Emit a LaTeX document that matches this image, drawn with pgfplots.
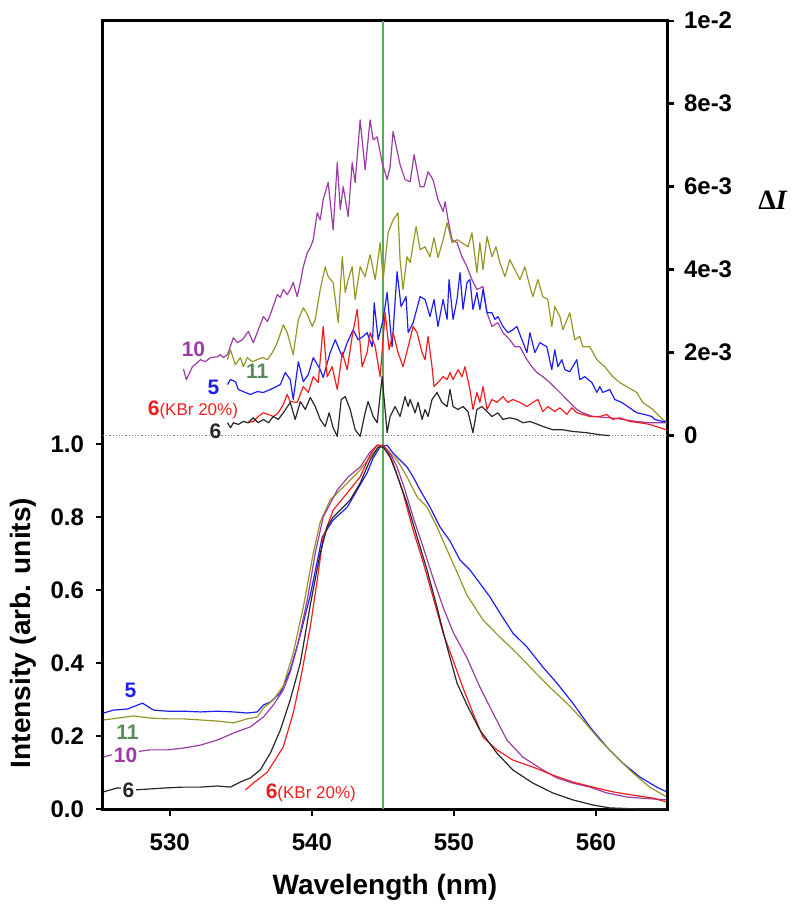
\documentclass[border=0pt]{standalone}
\usepackage{pgfplots}
\pgfplotsset{compat=1.18}
\usepackage{fontspec}
\setmainfont{Liberation Sans}
\setsansfont{Liberation Sans}
\newfontfamily\serifI{Liberation Serif}
\definecolor{cpur}{RGB}{155,60,165}
\definecolor{coli}{RGB}{150,150,40}
\definecolor{cblu}{RGB}{30,30,240}
\definecolor{cred}{RGB}{240,30,30}
\definecolor{cblk}{RGB}{40,40,40}
\definecolor{cgrn}{RGB}{90,170,90}
\definecolor{clab}{RGB}{90,140,90}
\tikzset{lab/.style={font=\fontsize{10.5}{12}\selectfont\bfseries}}
\begin{document}
\begin{tikzpicture}
\pgfplotsset{
  base/.style={scale only axis, width=282pt, height=394.15pt, at={(0pt,0pt)}, anchor=south west,
    xmin=525.3, xmax=565, tick align=outside, major tick length=3.5pt,
    axis line style={line width=1.5pt, black},
    major tick style={line width=1.2pt, black},
    every tick label/.append style={font=\fontsize{12}{14}\selectfont\bfseries},
    /pgf/number format/assume math mode=true},
  cur/.style={line width=0.6pt, line join=round}
}
% ---------------- bottom: normalised intensity ----------------
\begin{axis}[base, ymin=0, ymax=2.16, ytick={0,0.2,0.4,0.6,0.8,1.0}, xtick={530,540,550,560},
  tick pos=left,
  yticklabel style={/pgf/number format/fixed, /pgf/number format/fixed zerofill, /pgf/number format/precision=1, xshift=-2.5pt},
  xticklabel style={yshift=-5.5pt}]
\addplot[cgrn, line width=0.8pt] coordinates {(545,0) (545,2.16)};
% 5 (blue)
\addplot[cblu, cur] coordinates {(525.34,0.263)(526.04,0.271)(527.03,0.274)(528.08,0.290)(528.86,0.271)(529.84,0.268)(530.96,0.268)(532.16,0.266)(533.35,0.268)(534.48,0.266)(535.46,0.263)(536.16,0.266)(536.59,0.285)(537.08,0.293)(537.78,0.318)(538.48,0.381)(539.19,0.477)(539.89,0.586)(540.73,0.745)(541.50,0.792)(542.49,0.827)(543.19,0.874)(543.89,0.921)(544.32,0.962)(544.81,0.992)(545.30,0.997)(545.72,0.975)(546.21,0.956)(546.70,0.937)(547.13,0.910)(547.62,0.874)(548.32,0.827)(549.02,0.773)(549.73,0.734)(550.43,0.682)(551.13,0.655)(552.54,0.581)(553.24,0.537)(554.15,0.482)(555.14,0.444)(556.26,0.389)(557.25,0.345)(558.37,0.290)(559.57,0.225)(560.76,0.170)(561.88,0.126)(563.08,0.088)(564.27,0.060)(564.98,0.047)};
% 11 (olive)
\addplot[coli, cur] coordinates {(525.34,0.244)(526.33,0.249)(527.45,0.255)(528.64,0.249)(529.84,0.247)(530.96,0.247)(532.16,0.244)(533.35,0.241)(534.48,0.236)(535.46,0.247)(536.16,0.252)(536.59,0.277)(537.29,0.299)(537.99,0.337)(538.69,0.427)(539.40,0.553)(540.10,0.701)(540.59,0.786)(541.29,0.847)(542.21,0.882)(543.40,0.929)(544.32,0.975)(544.81,0.995)(545.30,0.984)(546.00,0.956)(546.70,0.910)(547.41,0.855)(548.11,0.827)(548.81,0.773)(549.52,0.710)(550.22,0.649)(550.92,0.586)(552.05,0.518)(553.24,0.471)(554.43,0.427)(555.56,0.381)(556.75,0.334)(557.95,0.290)(559.07,0.244)(560.27,0.189)(561.46,0.142)(562.59,0.099)(563.78,0.060)(564.98,0.033)};
% 10 (purple)
\addplot[cpur, cur] coordinates {(525.34,0.142)(525.83,0.148)(527.45,0.156)(528.64,0.162)(529.84,0.162)(530.96,0.167)(532.16,0.175)(533.35,0.189)(534.48,0.208)(535.67,0.225)(536.59,0.252)(537.29,0.285)(537.99,0.326)(538.48,0.375)(538.97,0.444)(539.68,0.573)(540.24,0.701)(540.80,0.800)(541.79,0.874)(542.56,0.910)(543.40,0.937)(544.10,0.978)(544.60,0.997)(545.02,0.995)(545.51,0.975)(546.00,0.937)(546.56,0.874)(547.13,0.800)(547.83,0.718)(548.53,0.633)(549.24,0.553)(549.94,0.485)(550.92,0.414)(551.83,0.334)(552.75,0.263)(553.73,0.189)(554.86,0.142)(556.26,0.107)(557.25,0.085)(558.37,0.071)(559.57,0.060)(560.76,0.044)(562.17,0.033)(563.08,0.030)(564.98,0.025)};
% 6 (KBr 20%) (red)
\addplot[cred, cur] coordinates {(535.32,0.052)(535.88,0.071)(536.87,0.101)(537.99,0.170)(538.69,0.263)(539.19,0.353)(539.89,0.499)(540.38,0.627)(540.80,0.745)(541.50,0.819)(542.49,0.866)(543.40,0.910)(544.10,0.970)(544.60,0.997)(545.02,0.997)(545.30,0.984)(545.72,0.948)(546.42,0.866)(547.13,0.764)(547.83,0.677)(548.53,0.581)(549.24,0.482)(549.94,0.408)(550.64,0.332)(551.34,0.263)(552.05,0.197)(553.03,0.162)(554.15,0.134)(555.56,0.115)(556.96,0.093)(558.37,0.074)(559.78,0.060)(561.18,0.047)(562.59,0.038)(564.00,0.030)(564.98,0.019)};
% 6 (black)
\addplot[cblk, cur] coordinates {(525.34,0.047)(526.33,0.058)(527.45,0.052)(528.64,0.055)(529.84,0.058)(530.96,0.060)(532.16,0.060)(533.35,0.063)(534.27,0.060)(534.97,0.074)(535.67,0.085)(536.37,0.107)(537.08,0.153)(537.78,0.216)(538.48,0.299)(539.19,0.400)(539.89,0.559)(540.59,0.701)(541.08,0.773)(541.50,0.800)(542.00,0.819)(542.70,0.847)(543.40,0.893)(544.10,0.956)(544.67,0.992)(545.02,0.992)(545.51,0.964)(546.00,0.915)(546.70,0.838)(547.41,0.745)(548.11,0.655)(548.81,0.553)(549.52,0.444)(550.22,0.345)(550.92,0.285)(551.83,0.216)(553.03,0.153)(554.15,0.107)(555.56,0.071)(556.96,0.044)(558.37,0.025)(559.78,0.011)(560.97,0.003)(563.08,0.0)(564.98,0.0)};
\node[cblu, lab] at (axis cs:527.24,0.326) {5};
\node[clab, lab] at (axis cs:527.03,0.211) {11};
\node[cpur, fill=white, inner sep=1pt, lab] at (axis cs:526.89,0.148) {10};
\node[cblk, fill=white, inner sep=1pt, lab] at (axis cs:527.10,0.052) {6};
\node[cred, anchor=west, inner sep=0pt] at (axis cs:536.73,0.044) {{\fontsize{10.5}{12}\selectfont\bfseries 6}{\fontsize{8.5}{10}\selectfont(KBr 20\%)}};
\end{axis}
% ---------------- top: Delta I (units of 1e-3) ----------------
\begin{axis}[base, ymin=-9, ymax=10, axis x line=none, axis y line*=right,
  ytick={0,2,4,6,8,10}, yticklabels={0,2e-3,4e-3,6e-3,8e-3,1e-2},
  yticklabel style={xshift=1.5pt}]
\addplot[gray, densely dotted, line width=0.6pt] coordinates {(525.3,0) (565,0)};
% 10 (purple)
\addplot[cpur, cur] coordinates {(530.96,1.61)(531.17,1.35)(531.60,1.66)(531.95,1.76)(532.16,1.83)(532.51,1.78)(532.86,1.88)(533.35,1.90)(533.56,1.95)(533.77,1.88)(534.06,1.95)(534.48,2.36)(534.76,2.24)(535.11,2.31)(535.53,2.51)(535.88,2.24)(536.37,2.67)(536.59,2.87)(536.87,2.75)(537.08,2.92)(537.57,3.40)(537.78,3.33)(537.99,3.52)(538.27,3.40)(538.48,3.52)(538.69,3.69)(538.97,3.35)(539.19,3.69)(539.40,4.07)(539.68,4.41)(539.89,4.53)(540.10,4.72)(540.38,5.37)(540.59,5.20)(540.80,5.69)(541.15,6.10)(541.50,4.96)(541.79,6.58)(542.00,5.45)(542.21,6.00)(542.56,5.28)(542.84,6.58)(543.05,6.10)(543.40,7.61)(543.75,6.41)(544.10,7.61)(544.32,7.13)(544.60,7.20)(544.95,6.58)(545.30,6.17)(545.51,6.48)(545.72,7.33)(546.21,6.53)(546.56,6.17)(546.92,6.12)(547.20,6.77)(547.62,6.00)(547.90,6.00)(548.18,6.36)(548.53,6.17)(548.88,5.69)(549.24,5.40)(549.38,5.64)(549.59,5.20)(549.87,4.72)(550.22,4.65)(550.57,4.31)(550.92,4.07)(551.27,3.76)(551.62,3.52)(552.05,3.59)(552.33,2.96)(552.68,2.63)(553.10,2.72)(553.45,2.48)(553.94,2.31)(554.29,2.14)(554.65,2.14)(555.14,1.83)(555.49,1.66)(555.84,1.52)(556.26,1.42)(556.75,1.28)(557.25,1.11)(557.95,0.87)(558.65,0.63)(559.07,0.55)(559.78,0.46)(560.97,0.43)(561.88,0.39)(562.87,0.34)(563.78,0.31)(564.98,0.31)};
% 11 (olive)
\addplot[coli, cur] coordinates {(534.06,1.83)(534.27,2.07)(534.62,1.71)(534.97,1.88)(535.18,1.66)(535.46,1.88)(535.81,1.78)(536.16,1.83)(536.52,1.88)(536.87,1.83)(537.22,2.00)(537.57,2.24)(537.99,2.67)(538.27,2.48)(538.69,1.95)(539.05,2.80)(539.40,3.08)(539.68,2.92)(540.03,2.63)(540.24,2.80)(540.59,3.52)(540.94,4.07)(541.15,3.83)(541.50,3.69)(541.86,2.72)(542.14,4.31)(542.35,3.45)(542.56,3.76)(542.84,4.07)(543.05,3.28)(543.40,4.07)(543.75,3.83)(544.10,4.36)(544.46,3.76)(544.81,4.65)(545.02,3.76)(545.37,4.89)(545.72,5.20)(546.07,5.37)(546.21,4.24)(546.42,3.52)(546.70,4.31)(546.92,4.17)(547.34,5.04)(547.62,4.48)(547.97,4.55)(548.32,4.31)(548.60,4.77)(548.88,4.29)(549.24,4.72)(549.52,5.13)(549.87,4.65)(550.22,4.72)(550.57,4.65)(550.99,4.55)(551.27,4.89)(551.62,3.93)(551.83,4.65)(552.05,4.00)(552.33,4.80)(552.68,4.31)(552.96,4.55)(553.24,4.17)(553.59,3.83)(553.94,4.24)(554.29,4.00)(554.65,3.76)(555.00,4.07)(555.35,3.59)(555.56,3.35)(555.91,3.76)(556.26,3.35)(556.61,3.28)(556.89,2.63)(557.10,3.11)(557.46,2.87)(557.67,2.55)(558.16,2.96)(558.51,2.31)(558.86,2.39)(559.07,2.14)(559.57,2.14)(560.06,1.83)(560.62,1.66)(561.18,1.42)(561.67,1.28)(562.17,1.18)(562.87,1.04)(563.29,0.80)(564.00,0.63)(564.70,0.39)(564.98,0.31)};
% 5 (blue)
\addplot[cblu, cur] coordinates {(534.06,1.23)(534.27,1.35)(534.62,1.30)(534.83,1.11)(535.18,1.06)(535.67,0.99)(536.16,1.06)(536.59,1.04)(537.08,1.11)(537.78,1.23)(538.13,1.52)(538.48,1.35)(538.69,0.87)(539.05,1.78)(539.40,1.30)(539.75,1.47)(540.10,1.88)(540.59,1.59)(540.80,1.40)(541.29,2.00)(541.65,2.31)(542.14,1.90)(542.49,2.24)(542.91,2.55)(543.26,2.31)(543.61,2.39)(543.89,2.48)(544.25,2.14)(544.39,3.20)(544.67,2.31)(545.02,2.80)(545.30,3.45)(545.65,2.14)(546.00,3.95)(546.28,3.11)(546.63,3.35)(546.78,2.48)(547.13,2.72)(547.62,3.35)(547.97,3.28)(548.32,2.87)(548.60,3.28)(548.88,2.63)(549.24,3.28)(549.52,2.80)(549.66,3.76)(549.94,2.80)(550.22,3.28)(550.43,3.93)(550.64,3.04)(550.92,3.69)(551.13,3.76)(551.34,3.04)(551.62,3.45)(551.83,3.04)(552.05,3.52)(552.33,2.96)(552.68,2.96)(552.89,2.80)(553.10,2.87)(553.45,2.63)(553.80,2.48)(554.15,2.55)(554.43,2.63)(554.79,2.31)(555.14,2.00)(555.35,2.48)(555.70,2.00)(556.05,2.24)(556.54,2.14)(556.89,1.59)(557.10,2.07)(557.32,1.66)(557.60,1.83)(557.81,1.59)(558.16,1.54)(558.65,1.83)(558.86,1.35)(559.21,1.42)(559.71,1.28)(560.06,1.04)(560.27,1.18)(560.48,1.04)(560.97,1.11)(561.32,0.87)(561.81,0.80)(562.24,0.70)(562.87,0.55)(563.43,0.51)(563.92,0.46)(564.13,0.39)(564.70,0.34)(564.98,0.34)};
% 6 (KBr 20%) (red)
\addplot[cred, cur] coordinates {(535.46,0.31)(535.88,0.34)(536.23,0.46)(536.59,0.55)(536.94,0.51)(537.29,0.46)(537.64,0.55)(537.99,0.75)(538.27,0.99)(538.48,0.82)(538.97,0.80)(539.40,1.18)(539.75,1.04)(540.10,1.42)(540.45,1.28)(540.80,2.63)(541.08,1.42)(541.43,1.66)(541.79,1.11)(542.14,2.00)(542.49,1.59)(542.84,2.39)(543.19,3.04)(543.54,1.66)(543.89,2.00)(544.10,2.48)(544.46,2.14)(544.81,1.42)(545.16,2.96)(545.44,2.07)(545.72,2.48)(546.07,2.00)(546.42,1.66)(546.78,2.14)(547.13,2.63)(547.41,2.48)(547.76,2.00)(547.97,1.83)(548.18,2.39)(548.46,1.66)(548.60,1.18)(548.88,1.28)(549.24,1.42)(549.52,1.35)(549.73,1.52)(549.94,1.35)(550.29,1.59)(550.57,1.42)(550.78,1.66)(551.13,1.11)(551.34,0.63)(551.62,1.04)(551.83,0.80)(552.05,1.18)(552.33,0.63)(552.68,0.87)(553.03,0.80)(553.45,0.94)(553.80,0.80)(554.15,0.87)(554.65,0.80)(555.14,0.70)(555.56,0.80)(555.91,0.87)(556.26,0.58)(556.61,0.70)(557.10,0.58)(557.46,0.67)(557.95,0.51)(558.30,0.67)(558.65,0.55)(559.07,0.51)(559.57,0.46)(560.27,0.46)(560.76,0.51)(561.18,0.39)(561.67,0.43)(562.38,0.34)(563.08,0.31)(563.78,0.27)(564.49,0.19)(564.98,0.14)};
% 6 (black)
\addplot[cblk, cur] coordinates {(534.06,0.31)(534.27,0.19)(534.48,0.31)(534.83,0.27)(535.18,0.34)(535.53,0.31)(535.88,0.43)(536.23,0.31)(536.59,0.39)(536.94,0.31)(537.29,0.46)(537.64,0.39)(537.99,0.55)(538.48,0.80)(538.83,0.39)(539.19,0.82)(539.54,0.63)(539.89,0.92)(540.24,0.70)(540.59,0.39)(540.94,0.22)(541.22,0.55)(541.50,0.19)(541.79,-0.02)(542.07,0.87)(542.35,0.94)(542.70,0.63)(543.05,0.14)(543.40,-0.02)(543.75,0.55)(543.96,0.82)(544.32,0.46)(544.60,0.31)(544.95,1.42)(545.30,0.07)(545.51,0.46)(545.86,0.70)(546.21,0.46)(546.56,0.94)(546.78,0.70)(546.92,0.87)(547.27,0.55)(547.48,0.80)(547.76,0.39)(547.97,0.63)(548.18,0.46)(548.46,0.87)(548.81,1.04)(549.16,0.80)(549.52,0.70)(549.73,1.11)(549.94,0.70)(550.29,0.63)(550.64,0.70)(550.99,0.58)(551.34,0.07)(551.62,0.63)(551.97,0.70)(552.33,0.58)(552.68,0.46)(553.10,0.55)(553.45,0.39)(553.94,0.43)(554.43,0.39)(554.86,0.31)(555.35,0.34)(555.91,0.27)(556.26,0.22)(556.96,0.14)(557.67,0.14)(558.37,0.10)(559.35,0.07)(560.27,0.02)(560.97,0.00)};
\node[cpur, lab] at (axis cs:531.67,2.07) {10};
\node[clab, lab] at (axis cs:536.16,1.54) {11};
\node[cblu, lab] at (axis cs:533.07,1.16) {5};
\node[cred, anchor=west, inner sep=0pt] at (axis cs:528.43,0.63) {{\fontsize{10.5}{12}\selectfont\bfseries 6}{\fontsize{8.5}{10}\selectfont(KBr 20\%)}};
\node[cblk, lab] at (axis cs:533.21,0.10) {6};
\end{axis}
\node[rotate=90, font=\fontsize{14}{16}\selectfont\bfseries] at (-40pt,88pt) {Intensity (arb. units)};
\node[font=\fontsize{14}{16}\selectfont\bfseries] at (141pt,-39pt) {Wavelength (nm)};
\node[font=\fontsize{14}{16}\selectfont\serifI\bfseries] at (335pt,304.5pt) {Δ\textit{I}};
\pgfresetboundingbox
\useasboundingbox (-51.5pt,-51.5pt) rectangle (348.5pt,404.5pt);
\end{tikzpicture}
\end{document}
